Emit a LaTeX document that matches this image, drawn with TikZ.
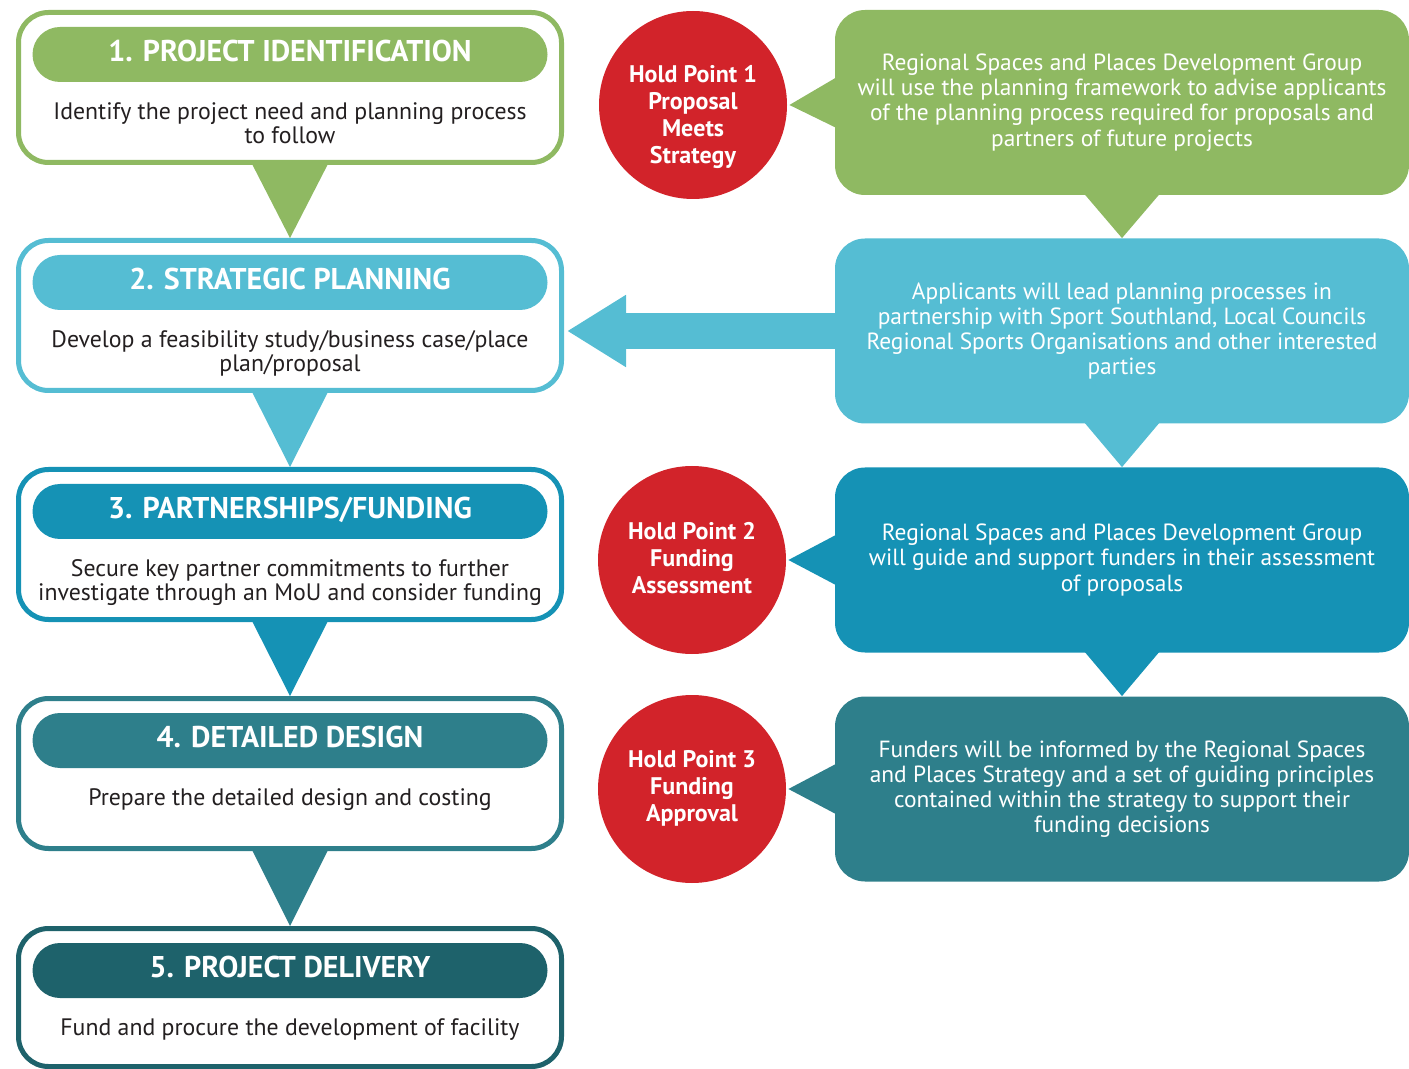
\documentclass[tikz,border=0pt]{standalone}
\usepackage{fontspec}
\setmainfont{PT Sans}
\usetikzlibrary{calc,arrows.meta,shapes.geometric}
\definecolor{stepgreen}{RGB}{143,185,98}
\definecolor{steplight}{RGB}{85,189,211}
\definecolor{stepmid}{RGB}{21,146,181}
\definecolor{stepteal}{RGB}{46,127,139}
\definecolor{stepdark}{RGB}{30,98,107}
\definecolor{holdred}{RGB}{210,35,42}
\definecolor{bodytext}{RGB}{35,31,32}
\tikzset{
  stagebox/.style={draw=#1,line width=2.5pt,fill=white,rounded corners=15pt,
    minimum width=271.5pt,minimum height=75pt,inner sep=0pt},
  pill/.style={fill=#1,rounded corners=13.75pt,minimum width=257.5pt,
    minimum height=27.5pt},
  headtext/.style={text=white,text depth=0pt,inner sep=0pt,
    font=\bfseries\fontsize{15}{17}\selectfont},
  stagetext/.style={text=bodytext,align=center,inner sep=0pt,anchor=north,
    font=\fontsize{11.9}{12}\selectfont},
  holdpoint/.style={circle,fill=holdred,minimum size=94pt,inner sep=0pt},
  holdtext/.style={text=white,align=center,inner sep=0pt,
    font=\bfseries\fontsize{12}{13.5}\selectfont},
  callout/.style={fill=#1,rounded corners=15pt,minimum width=287pt,
    minimum height=92.5pt,text=white,align=center,
    font=\fontsize{11.7}{12.6}\selectfont}
}
\newcommand*{\downtip}[3]
  {\fill[#1] ($(#2.south)+(-39,-3)$) -- ($(#2.south)+(39,-3)$) -- (#3.north) -- cycle}
\newcommand*{\sidetip}[3]
  {\fill[#1] ($(#2.west)+(5,-27)$) -- ($(#3.east)+(2,0)$) -- ($(#2.west)+(5,27)$) -- cycle}

\begin{document}
\begin{tikzpicture}[x=0.5pt,y=-0.5pt]
\useasboundingbox (0,0) rectangle (1409,1069);
% stages down the left
\foreach \n/\y/\h/\top/\col/\head/\body in {
  1/87.5/75/10/stepgreen/{1. PROJECT IDENTIFICATION}/{Identify the project need and planning process\\to follow},
  2/315.5/75/238/steplight/{2. STRATEGIC PLANNING}/{Develop a feasibility study/business case/place\\plan/proposal},
  3/544.5/75/467/stepmid/{3. PARTNERSHIPS/FUNDING}/{Secure key partner commitments to further\\investigate through an MoU and consider funding},
  4/773.5/75/696/stepteal/{4. DETAILED DESIGN}/{Prepare the detailed design and costing},
  5/997.5/69/926/stepdark/{5. PROJECT DELIVERY}/{Fund and procure the development of facility}} {
  \node[stagebox=\col,minimum height=\h pt] (s\n) at (290,\y) {};
  \node[pill=\col] (p\n) at (290,\top+44.5) {};
  \node[headtext] (ph\n) at (290,\top+40.5) {\head};
  \node[stagetext] (t\n) at (290,\top+92) {\body};
}
\downtip{stepgreen}{s1}{s2};
\downtip{steplight}{s2}{s3};
\downtip{stepmid}{s3}{s4};
\downtip{stepteal}{s4}{s5};

% hold points
\node[holdpoint] (h1) at (693,105) {};
\node[holdpoint] (h2) at (692,560) {};
\node[holdpoint] (h3) at (692,789) {};
\node[holdtext] (ht1) at (693,117) {Hold Point 1\\Proposal\\Meets\\Strategy};
\node[holdtext] (ht2) at (692,558) {Hold Point 2\\Funding\\Assessment};
\node[holdtext] (ht3) at (692,788) {Hold Point 3\\Funding\\Approval};

% callouts on the right
\node[callout=stepgreen] (c1) at (1122,102.5) {Regional Spaces and Places Development Group\\will use the planning framework to advise applicants\\of the planning process required for proposals and\\partners of future projects};
\node[callout=steplight] (c2) at (1122,331) {Applicants will lead planning processes in\\partnership with Sport Southland, Local Councils\\Regional Sports Organisations and other interested\\parties};
\node[callout=stepmid] (c3) at (1122,560) {Regional Spaces and Places Development Group\\will guide and support funders in their assessment\\of proposals};
\node[callout=stepteal] (c4) at (1122,789) {Funders will be informed by the Regional Spaces\\and Places Strategy and a set of guiding principles\\contained within the strategy to support their\\funding decisions};

\sidetip{stepgreen}{c1}{h1};
\sidetip{stepmid}{c3}{h2};
\sidetip{stepteal}{c4}{h3};
\downtip{stepgreen}{c1}{c2};
\downtip{steplight}{c2}{c3};
\downtip{stepmid}{c3}{c4};

\coordinate (arrowtip) at ($(s2.east |- c2.west)+(3,0)$);
\draw[steplight,line width=18pt,-{Triangle[length=29.5pt,width=34pt]}]
  ($(c2.west)+(5,0)$) -- (arrowtip);
\end{tikzpicture}
\end{document}
